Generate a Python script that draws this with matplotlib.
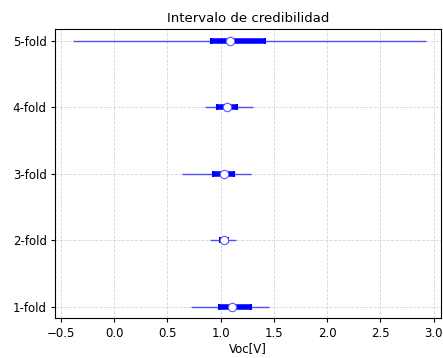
import matplotlib
matplotlib.use("Agg")
import matplotlib.pyplot as plt
import numpy as np

labels = ["1-fold", "2-fold", "3-fold", "4-fold", "5-fold"]
hdi_low = [0.717, 0.899, 0.633, 0.852, -0.39]
hdi_high = [1.453, 1.143, 1.284, 1.305, 2.93]
q_low = [0.986, 0.992, 0.924, 0.962, 0.908]
q_high = [1.284, 1.067, 1.127, 1.149, 1.412]
medians = [1.105, 1.033, 1.030, 1.055, 1.089]

fig = plt.figure(figsize=(4.43, 3.58), dpi=100)
ax = fig.add_axes([55 / 443, 1 - 318.3 / 358, (441 - 55) / 443, (318.3 - 29) / 358])

y = np.arange(len(labels))
ax.hlines(y, hdi_low, hdi_high, color=(0.3, 0.3, 1.0), lw=1.0, zorder=2)
med = np.array(medians)
xerr = np.vstack([med - np.array(q_low), np.array(q_high) - med])
ax.errorbar(med, y, xerr=xerr, fmt="none", ecolor="blue", elinewidth=4,
            capsize=2.5, capthick=1.5, zorder=3)
ax.plot(med, y, "o", mfc="white", mec=(0.35, 0.35, 1.0), ms=6, mew=0.8, zorder=4)

ax.set_yticks(y)
ax.set_yticklabels(labels)
ax.set_xticks(np.arange(-0.5, 3.01, 0.5))
ax.set_xlim(-0.557, 3.07)
ax.set_ylim(-0.175, 4.175)
ax.grid(True, ls="--", lw=0.6, color="#cccccc", alpha=0.8)
ax.set_axisbelow(True)
ax.tick_params(labelsize=8.5, length=3, width=0.8, pad=3)
ax.set_xlabel("Voc[V]", fontsize=8.5, labelpad=2)
ax.set_title("Intervalo de credibilidad", fontsize=9.5, pad=5)

fig.savefig("out.png", dpi=100)
